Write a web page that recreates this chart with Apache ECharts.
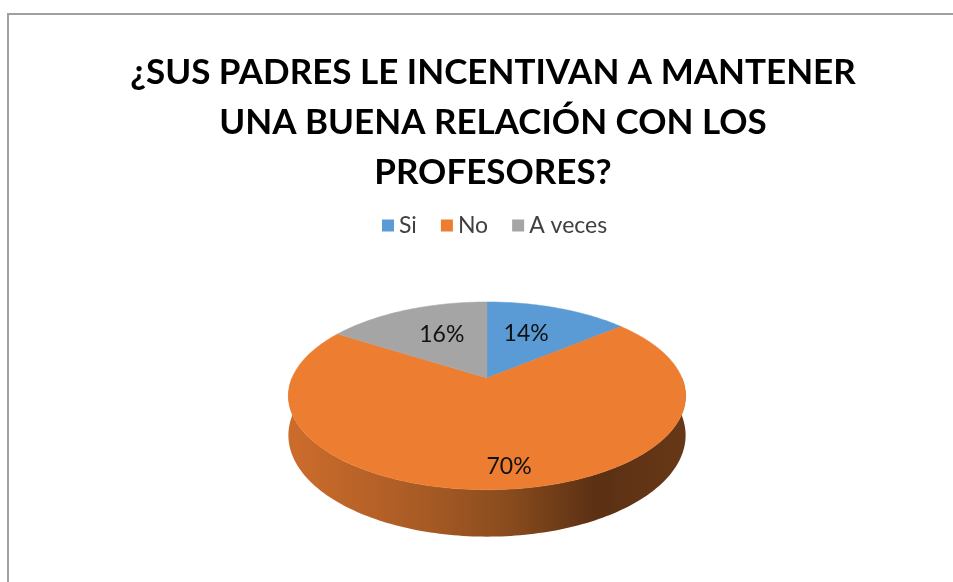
<!DOCTYPE html>
<html>
<head>
<meta charset="utf-8">
<style>
  html, body { margin: 0; padding: 0; background: #fff; }
  #chart { width: 953px; height: 582px; }
</style>
<script src="https://cdn.jsdelivr.net/npm/echarts@6/dist/echarts.min.js"></script>
</head>
<body>
<div id="chart"></div>
<script>
// datos
const categories = ['Si', 'No', 'A veces']
const values = [14, 70, 16]
const colors = ['#5b9bd5', '#ed7d31', '#a5a5a5']
const labelRadius = [0.6, 0.83, 0.6]

// geometria del pastel 3D (perspectiva simple)
const CX = 487
const CY = 378
const RX = 195
const RY = 90.5
const K = -0.19
const DEPTH = 38

function proj(theta, r, drop) {
  const u = r * Math.sin(theta)
  const v = -r * Math.cos(theta)
  const w = 1 + K * v
  return [CX + RX * u / w, CY + (RY * v + drop) / w]
}

function arcPoints(a0, a1, drop) {
  const pts = []
  const n = Math.max(4, Math.ceil((a1 - a0) / 0.02))
  for (let i = 0; i <= n; i++) {
    pts.push(proj(a0 + (a1 - a0) * i / n, 1, drop))
  }
  return pts
}

const total = values.reduce((a, b) => a + b, 0)

const wallGradient = {
  type: 'linear',
  global: true,
  x: CX - RX, y: 0, x2: CX + RX, y2: 0,
  colorStops: [
    { offset: 0, color: '#cc6c2c' },
    { offset: 0.35, color: '#a65a24' },
    { offset: 0.55, color: '#8a4c1e' },
    { offset: 0.78, color: '#5b3013' },
    { offset: 1, color: '#673817' }
  ]
}

function makeRender(idx) {
  return function (params, api) {
    const before = values.slice(0, idx).reduce((a, b) => a + b, 0)
    const val = api.value(0)
    const a0 = before / total * Math.PI * 2
    const a1 = (before + val) / total * Math.PI * 2
    const children = []

    // pared lateral (solo la parte frontal)
    const f0 = Math.max(a0, Math.PI / 2)
    const f1 = Math.min(a1, Math.PI * 1.5)
    if (f1 > f0) {
      const top = arcPoints(f0, f1, 0)
      const bottom = arcPoints(f0, f1, DEPTH).reverse()
      children.push({
        type: 'polygon',
        z2: 1,
        shape: { points: top.concat(bottom) },
        style: { fill: wallGradient }
      })
    }

    // cara superior
    const face = [proj(0, 0, 0)].concat(arcPoints(a0, a1, 0))
    children.push({
      type: 'polygon',
      z2: 2,
      shape: { points: face },
      style: { fill: colors[idx], stroke: colors[idx], lineWidth: 0.5 }
    })

    // etiqueta
    const mid = (a0 + a1) / 2
    const p = proj(mid, labelRadius[idx], 0)
    children.push({
      type: 'text',
      z2: 3,
      x: p[0] + (idx === 1 ? 10 : idx === 0 ? -6 : 6),
      y: p[1],
      style: {
        text: Math.round(val / total * 100) + '%',
        fill: '#111',
        font: '23px Lato',
        align: 'center',
        verticalAlign: 'middle'
      }
    })

    return { type: 'group', children: children }
  }
}

const chart = echarts.init(document.getElementById('chart'))

chart.setOption({
  backgroundColor: '#fff',
  animation: false,
  title: {
    text: '¿SUS PADRES LE INCENTIVAN A MANTENER\nUNA BUENA RELACIÓN CON LOS\nPROFESORES?',
    left: 488,
    textAlign: 'center',
    top: 43,
    textStyle: {
      fontFamily: 'Lato',
      fontWeight: 'bold',
      fontSize: 35,
      lineHeight: 50,
      color: '#000'
    }
  },
  legend: {
    data: categories,
    top: 209,
    left: 377,
    icon: 'rect',
    itemWidth: 12,
    itemHeight: 12,
    itemGap: 24,
    textStyle: { fontFamily: 'Lato', fontSize: 23, color: '#404040' }
  },
  graphic: [{
    type: 'rect',
    shape: { x: 8, y: 14, width: 1200, height: 1000 },
    style: { fill: 'none', stroke: '#a0a0a0', lineWidth: 2 },
    silent: true
  }],
  series: categories.map((name, i) => ({
    type: 'custom',
    name: name,
    coordinateSystem: 'none',
    color: colors[i],
    renderItem: makeRender(i),
    data: [[values[i]]]
  }))
})
</script>
</body>
</html>
